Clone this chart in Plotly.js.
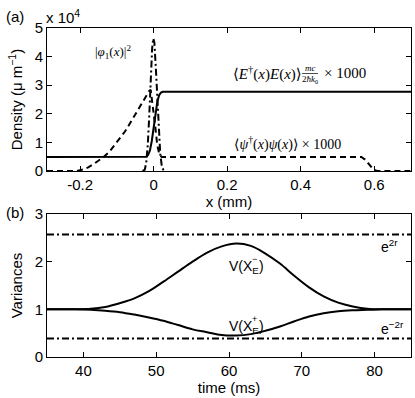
<!DOCTYPE html>
<html>
<head>
<meta charset="utf-8">
<script src="https://cdn.plot.ly/plotly-3.0.1.min.js"></script>
<style>
  html, body { margin: 0; padding: 0; background: #fff; }
  #chart { width: 415px; height: 398px; }
</style>
</head>
<body>
<div id="chart"></div>
<script>
// (a) плотности, в единицах 10^4
const xField = [-0.29, -0.025, -0.02, -0.015, -0.01, -0.005, 0, 0.005, 0.01, 0.015, 0.02, 0.025, 0.7];
const yField = [0.49, 0.49, 0.5, 0.56, 0.72, 1.05, 1.5, 2.0, 2.42, 2.65, 2.74, 2.77, 2.77];

const xAtoms = [-0.29, -0.21, -0.19, -0.178, -0.16, -0.137, -0.12, -0.105, -0.09, -0.078, -0.065, -0.051,
                -0.038, -0.024, -0.012, -0.008, -0.002, 0.004, 0.01, 0.016, 0.022, 0.565, 0.575, 0.585,
                0.595, 0.603, 0.61, 0.7];
const yAtoms = [0, 0, 0.06, 0.13, 0.27, 0.48, 0.68, 0.92, 1.15, 1.38, 1.65, 1.96,
                2.27, 2.57, 2.8, 2.84, 2.3, 1.6, 0.9, 0.56, 0.49, 0.49, 0.4, 0.25,
                0.1, 0.02, 0, 0];

const xMode = [-0.03, -0.024, -0.02, -0.016, -0.012, -0.008, -0.004, -0.001, 0.002, 0.006, 0.01, 0.014,
               0.018, 0.022, 0.026, 0.03];
const yMode = [0, 0.05, 0.3, 0.9, 1.9, 3.2, 4.3, 4.64, 4.5, 3.6, 2.4, 1.3, 0.6, 0.2, 0.05, 0];

const xTicksA = [-0.2, 0, 0.2, 0.4, 0.6];
const xLabelsA = ['-0.2', '0', '0.2', '0.4', '0.6'];
const yTicksA = [0, 1, 2, 3, 4, 5];

// (b) дисперсии
const tMs = [35, 37, 39, 41, 43, 45, 47, 49, 51, 53, 55, 57, 59, 61, 63, 65, 67, 69, 71, 73, 75, 77, 79, 81, 83, 85];
const vMinus = [1.00, 1.00, 1.00, 1.01, 1.05, 1.13, 1.23, 1.38, 1.58, 1.79, 2.00, 2.19, 2.32, 2.38, 2.33, 2.17,
                1.96, 1.70, 1.46, 1.27, 1.14, 1.06, 1.01, 1.00, 1.00, 1.00];
const vPlus = [1.00, 1.00, 1.00, 0.99, 0.97, 0.94, 0.89, 0.83, 0.76, 0.67, 0.58, 0.52, 0.46, 0.45, 0.48, 0.55,
               0.64, 0.75, 0.85, 0.92, 0.96, 0.98, 0.99, 1.00, 1.00, 1.00];
const tLimits = [35, 85];
const eTwoR = 2.57;
const eMinusTwoR = 0.39;
const xTicksB = [40, 50, 60, 70, 80];
const yTicksB = [0, 1, 2, 3];

const sans = 'Liberation Sans, Arial, sans-serif';
const serif = 'Liberation Serif, DejaVu Serif, serif';

// пиксели -> координаты paper (поле графика 47..411 по x, 28..357 по y)
function px(x) { return (x - 47) / 364; }
function py(y) { return (357 - y) / 329; }

function note(text, x, y, size, family, xanchor) {
    return {
        text: text,
        x: px(x), y: py(y),
        xref: 'paper', yref: 'paper',
        xanchor: xanchor || 'center', yanchor: 'middle',
        showarrow: false,
        font: { size: size, family: family, color: '#000' }
    };
}

const data = [
    {
        x: xField, y: yField, type: 'scatter', mode: 'lines',
        line: { color: '#000', width: 2 },
        xaxis: 'x', yaxis: 'y'
    },
    {
        x: xAtoms, y: yAtoms, type: 'scatter', mode: 'lines',
        line: { color: '#000', width: 2, dash: '6px,4px' },
        xaxis: 'x', yaxis: 'y'
    },
    {
        x: xMode, y: yMode, type: 'scatter', mode: 'lines',
        line: { color: '#000', width: 2, dash: '7px,3px,2px,3px' },
        xaxis: 'x', yaxis: 'y'
    },
    {
        x: tLimits, y: [eTwoR, eTwoR], type: 'scatter', mode: 'lines',
        line: { color: '#000', width: 2, dash: '7px,3px,2px,3px' },
        xaxis: 'x2', yaxis: 'y2'
    },
    {
        x: tLimits, y: [eMinusTwoR, eMinusTwoR], type: 'scatter', mode: 'lines',
        line: { color: '#000', width: 2, dash: '7px,3px,2px,3px' },
        xaxis: 'x2', yaxis: 'y2'
    },
    {
        x: tMs, y: vMinus, type: 'scatter', mode: 'lines',
        line: { color: '#000', width: 2, shape: 'spline' },
        xaxis: 'x2', yaxis: 'y2'
    },
    {
        x: tMs, y: vPlus, type: 'scatter', mode: 'lines',
        line: { color: '#000', width: 2, shape: 'spline' },
        xaxis: 'x2', yaxis: 'y2'
    }
];

const axisBase = {
    showline: true,
    linecolor: '#000',
    linewidth: 1,
    mirror: 'allticks',
    ticks: 'inside',
    ticklen: 5,
    tickcolor: '#000',
    showgrid: false,
    zeroline: false,
    tickfont: { size: 15, family: sans, color: '#000' }
};

const layout = {
    width: 415,
    height: 398,
    margin: { l: 47, r: 4, t: 28, b: 41 },
    showlegend: false,
    paper_bgcolor: '#fff',
    plot_bgcolor: '#fff',
    xaxis: Object.assign({}, axisBase, {
        domain: [0, 1],
        anchor: 'y',
        range: [-0.29, 0.7],
        tickvals: xTicksA,
        ticktext: xLabelsA,
        title: { text: 'x (mm)', font: { size: 15, family: sans, color: '#000' }, standoff: 3 }
    }),
    yaxis: Object.assign({}, axisBase, {
        domain: [0.5653, 1],
        anchor: 'x',
        range: [0, 5],
        tickvals: yTicksA,
        title: { text: 'Density (μ m<sup>−1</sup>)', font: { size: 15, family: sans, color: '#000' }, standoff: 8 }
    }),
    xaxis2: Object.assign({}, axisBase, {
        domain: [0, 1],
        anchor: 'y2',
        range: [35, 85],
        tickvals: xTicksB,
        title: { text: 'time (ms)', font: { size: 15, family: sans, color: '#000' }, standoff: 2 }
    }),
    yaxis2: Object.assign({}, axisBase, {
        domain: [0, 0.4347],
        anchor: 'x2',
        range: [0, 3],
        tickvals: yTicksB,
        title: { text: 'Variances', font: { size: 15, family: sans, color: '#000' }, standoff: 8 }
    }),
    annotations: [
        note('(a)', 15, 16, 15, sans),
        note('(b)', 15, 212, 15, sans),
        note('x 10<sup>4</sup>', 44, 17, 15, sans, 'left'),
        note('|<i>φ</i><sub>1</sub>(<i>x</i>)|<sup>2</sup>', 113, 52, 13, serif),
        note('⟨<i>E</i><sup>†</sup>(<i>x</i>)<i>E</i>(<i>x</i>)⟩', 231, 73, 15, serif, 'left'),
        note('<i>mc</i>', 310, 68, 9, serif),
        note('2<i>ħk</i><sub>0</sub>', 310, 79, 9, serif),
        note('× 1000', 322, 73, 15, serif, 'left'),
        note('⟨<i>ψ</i><sup>†</sup>(<i>x</i>)<i>ψ</i>(<i>x</i>)⟩ × 1000', 232, 143, 14, serif, 'left'),
        note('e<sup>2r</sup>', 389, 246, 14, sans),
        note('e<sup>−2r</sup>', 392, 328, 14, sans),
        note('V(X<sub>E</sub>)', 227, 267, 14, sans, 'left'),
        note('−', 254, 259, 9, sans),
        note('V(X<sub>E</sub>)', 227, 327, 14, sans, 'left'),
        note('+', 254, 319, 9, sans)
    ],
    shapes: [
        {
            type: 'line', xref: 'paper', yref: 'paper',
            x0: px(302), x1: px(318), y0: py(73.5), y1: py(73.5),
            line: { color: '#000', width: 0.7 }
        }
    ]
};

const config = {
    displayModeBar: false,
    responsive: false
};

Plotly.newPlot('chart', data, layout, config);
</script>
</body>
</html>
